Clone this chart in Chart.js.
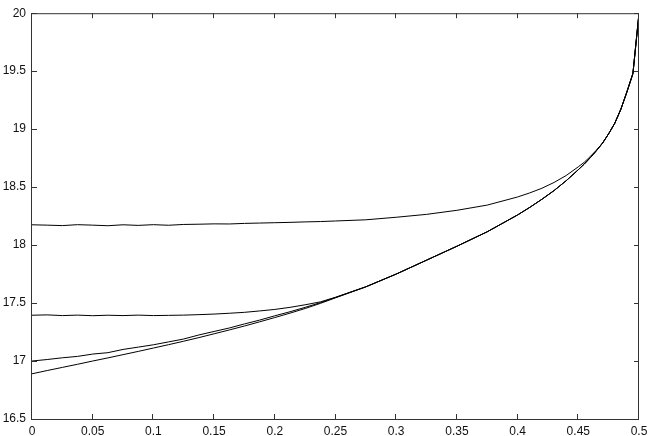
<!DOCTYPE html>
<html>
<head>
<meta charset="utf-8">
<script src="https://cdn.jsdelivr.net/npm/chart.js@4"></script>
<style>
  html, body { margin: 0; padding: 0; background: #fff; }
  #wrap { width: 654px; height: 436px; }
</style>
</head>
<body>
<div id="wrap"><canvas id="chart" width="654" height="436"></canvas></div>
<script>
// x positions shared by all four curves
const xs = [0, 0.0125, 0.025, 0.0375, 0.05, 0.0625, 0.075, 0.0875, 0.1, 0.1125, 0.125, 0.1375,
  0.15, 0.1625, 0.175, 0.1875, 0.2, 0.2125, 0.225, 0.2375, 0.25,
  0.275, 0.3, 0.325, 0.35, 0.375, 0.4, 0.41, 0.42, 0.43, 0.44, 0.45, 0.455, 0.46, 0.465,
  0.47, 0.475, 0.48, 0.485, 0.49, 0.495, 0.5];

// top curve (~18.17, slightly wavy)
const curveTop = [18.175, 18.172, 18.168, 18.176, 18.172, 18.167, 18.175, 18.17, 18.176, 18.171,
  18.178, 18.18, 18.183, 18.182, 18.187, 18.19, 18.193, 18.196, 18.2, 18.203, 18.208,
  18.218, 18.24, 18.265, 18.3, 18.345, 18.415, 18.45, 18.49, 18.54, 18.6, 18.675, 18.715,
  18.765, 18.82, 18.88, 18.96, 19.05, 19.17, 19.32, 19.48, 20];

// second curve (~17.4)
const curveMid = [17.395, 17.398, 17.392, 17.396, 17.391, 17.395, 17.392, 17.396, 17.392, 17.394,
  17.396, 17.4, 17.405, 17.412, 17.42, 17.432, 17.445, 17.463, 17.485, 17.51, 17.55,
  17.64, 17.75, 17.87, 17.99, 18.115, 18.26, 18.325, 18.395, 18.47, 18.555, 18.65, 18.7,
  18.755, 18.815, 18.88, 18.96, 19.05, 19.17, 19.32, 19.48, 20];

// third curve (starts at 17.0, a bit wavy)
const curveLow = [17.0, 17.013, 17.028, 17.04, 17.06, 17.072, 17.1, 17.12, 17.14, 17.165,
  17.19, 17.225, 17.255, 17.285, 17.32, 17.353, 17.39, 17.425, 17.463, 17.503, 17.548,
  17.64, 17.75, 17.87, 17.99, 18.115, 18.26, 18.325, 18.395, 18.47, 18.555, 18.65, 18.7,
  18.755, 18.815, 18.88, 18.96, 19.05, 19.17, 19.32, 19.48, 20];

// smooth bottom curve
const curveBase = [16.89, 16.918, 16.945, 16.972, 17.0, 17.027, 17.055, 17.083, 17.112, 17.141,
  17.171, 17.202, 17.235, 17.268, 17.302, 17.338, 17.375, 17.413, 17.453, 17.497, 17.545,
  17.64, 17.75, 17.87, 17.99, 18.115, 18.26, 18.325, 18.395, 18.47, 18.555, 18.65, 18.7,
  18.755, 18.815, 18.88, 18.96, 19.05, 19.17, 19.32, 19.48, 20];

const xTicks = [0, 0.05, 0.1, 0.15, 0.2, 0.25, 0.3, 0.35, 0.4, 0.45, 0.5];
const yTicks = [16.5, 17, 17.5, 18, 18.5, 19, 19.5, 20];

function toPoints(ys) {
  return xs.map((x, i) => ({ x: x, y: ys[i] }));
}

function lineSet(ys) {
  return {
    data: toPoints(ys),
    borderColor: '#000',
    borderWidth: 1,
    pointRadius: 0,
    tension: 0,
    fill: false
  };
}

// box + inward ticks on all four sides
const frame = {
  id: 'frame',
  afterDraw(chart) {
    const ctx = chart.ctx;
    const a = chart.chartArea;
    const sx = chart.scales.x, sy = chart.scales.y;
    const len = 5;
    ctx.save();
    ctx.strokeStyle = '#333';
    ctx.lineWidth = 1;
    ctx.strokeRect(a.left - 0.5, a.top + 0.5, a.right - a.left, a.bottom - a.top);
    ctx.beginPath();
    xTicks.forEach(v => {
      const px = Math.round(sx.getPixelForValue(v)) - 0.5;
      ctx.moveTo(px, a.bottom);
      ctx.lineTo(px, a.bottom - len);
      ctx.moveTo(px, a.top);
      ctx.lineTo(px, a.top + len);
    });
    yTicks.forEach(v => {
      const py = Math.round(sy.getPixelForValue(v)) + 0.5;
      ctx.moveTo(a.left, py);
      ctx.lineTo(a.left + len, py);
      ctx.moveTo(a.right, py);
      ctx.lineTo(a.right - len, py);
    });
    ctx.stroke();
    ctx.restore();
  }
};

new Chart(document.getElementById('chart'), {
  type: 'line',
  data: {
    datasets: [lineSet(curveTop), lineSet(curveMid), lineSet(curveLow), lineSet(curveBase)]
  },
  options: {
    responsive: false,
    animation: false,
    layout: { padding: { top: 11, right: 15, left: 0, bottom: 0 } },
    plugins: { legend: { display: false }, tooltip: { enabled: false } },
    scales: {
      x: {
        type: 'linear',
        min: 0,
        max: 0.5,
        afterBuildTicks: s => { s.ticks = xTicks.map(v => ({ value: v })); },
        afterFit: s => { s.height = 17; },
        grid: { display: false, drawTicks: false },
        border: { display: false },
        ticks: {
          padding: 5,
          maxRotation: 0,
          autoSkip: false,
          color: '#111',
          font: { family: 'Liberation Sans', size: 12 },
          callback: v => String(+v.toFixed(2))
        }
      },
      y: {
        type: 'linear',
        min: 16.5,
        max: 20,
        afterBuildTicks: s => { s.ticks = yTicks.map(v => ({ value: v })); },
        afterFit: s => { s.width = 32; },
        grid: { display: false, drawTicks: false },
        border: { display: false },
        ticks: {
          padding: 6,
          autoSkip: false,
          color: '#111',
          font: { family: 'Liberation Sans', size: 12 },
          callback: v => String(+v.toFixed(1))
        }
      }
    }
  },
  plugins: [frame]
});
</script>
</body>
</html>
